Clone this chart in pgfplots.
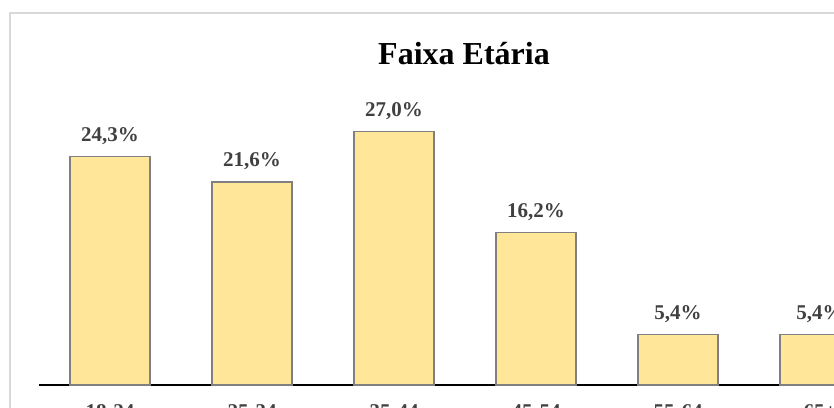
\documentclass[border=0pt]{standalone}
\usepackage{pgfplots}
\pgfplotsset{compat=1.18}
\usepackage{fontspec}
\setmainfont{Liberation Serif}
\definecolor{barfill}{HTML}{FFE699}
\definecolor{baredge}{HTML}{808080}
\definecolor{lbl}{HTML}{404040}
\definecolor{tick}{HTML}{404040}
\definecolor{frame}{HTML}{D9D9D9}
\begin{document}
\begin{tikzpicture}
\useasboundingbox (0,0) rectangle (834pt,407pt);
\clip (0,0) rectangle (834pt,407pt);
\fill[white] (0,0) rectangle (834pt,407pt);
\draw[frame, line width=1.5pt] (10pt,394pt) rectangle (920pt,-60pt);
\begin{axis}[
  at={(39pt,22pt)}, anchor=south west,
  scale only axis,
  width=852pt, height=282pt,
  xmin=-0.5, xmax=5.5, ymin=0, ymax=30,
  axis x line*=bottom,
  axis y line=none,
  x axis line style={-, black, line width=2pt},
  xtick={0,1,2,3,4,5},
  xticklabels={18-24,25-34,35-44,45-54,55-64,65+},
  major tick length=0pt,
  xticklabel style={font=\fontsize{21}{24}\selectfont\bfseries, text=tick, anchor=base, yshift=-33pt},
  ybar, bar width=80pt,
  /pgf/number format/.cd, use comma, fixed, fixed zerofill, precision=1, assume math mode=true,
  /pgfplots/.cd,
  nodes near coords={\pgfmathprintnumber{\pgfplotspointmeta}\%},
  every node near coord/.append style={font=\fontsize{21}{24}\selectfont\bfseries, text=lbl, anchor=base, yshift=15pt, inner sep=0pt},
]
\addplot[fill=barfill, draw=baredge, line width=1.3pt] coordinates {
  (0,24.3) (1,21.6) (2,27.0) (3,16.2) (4,5.4) (5,5.4)
};
\end{axis}
\node[anchor=base, font=\fontsize{32}{38}\selectfont\bfseries, text=black] at (464pt,342pt) {Faixa Etária};
\end{tikzpicture}
\end{document}
